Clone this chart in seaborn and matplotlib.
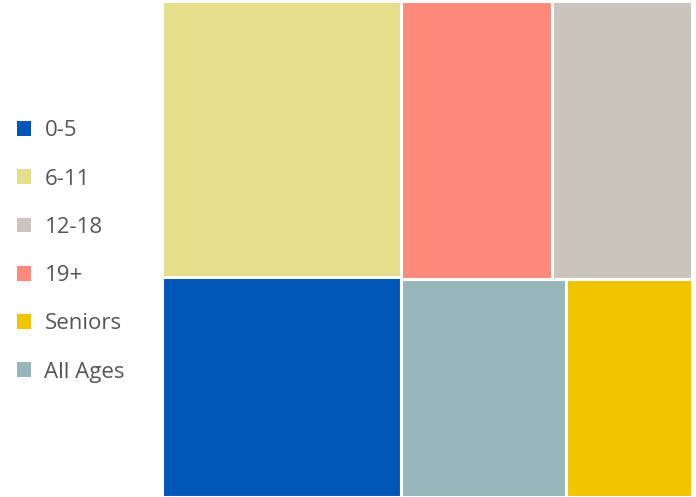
import matplotlib
matplotlib.use('Agg')
import matplotlib.pyplot as plt
from matplotlib.patches import Rectangle, Patch
import seaborn as sns

# data
groups = ['0-5', '6-11', '12-18', '19+', 'Seniors', 'All Ages']
shares = [20.0, 25.1, 14.8, 16.0, 10.4, 13.7]
colors = ['#0057b8', '#e5de8a', '#cbc4bd', '#ff8a7b', '#f0c500', '#97b6ba']


def worst(row, side):
    s = sum(row)
    return max(max(side * side * r / (s * s), s * s / (side * side * r)) for r in row)


def place_row(row, x, y, w, h):
    s = sum(row)
    out = []
    if w >= h:
        cw = s / h
        yy = y
        for r in row:
            out.append((x, yy, cw, r / cw))
            yy += r / cw
        return out, (x + cw, y, w - cw, h)
    rh = s / w
    xx = x
    for r in row:
        out.append((xx, y, r / rh, rh))
        xx += r / rh
    return out, (x, y + rh, w, h - rh)


def squarify(values, w, h):
    total = sum(values)
    areas = [v * w * h / total for v in values]
    box = (0, 0, w, h)
    rects, row = [], []
    rest = list(areas)
    while rest:
        side = min(box[2], box[3])
        a = rest[0]
        if not row or worst(row + [a], side) <= worst(row, side):
            row.append(a)
            rest.pop(0)
        else:
            out, box = place_row(row, *box)
            rects += out
            row = []
    out, box = place_row(row, *box)
    rects += out
    return rects


sns.set_theme(style='white')
plt.rcParams['font.family'] = ['Open Sans', 'DejaVu Sans']

W, H = 530, 496
order = sorted(range(len(groups)), key=lambda i: -shares[i])
rects = squarify([shares[i] for i in order], W, H)

fig = plt.figure(figsize=(6.96, 4.97), dpi=100)
ax = fig.add_axes([161.5 / 696, 0, W / 696, H / 497])
pal = sns.color_palette(colors)
for i, (x, y, w, h) in zip(order, rects):
    ax.add_patch(Rectangle((x, y), w, h, facecolor=pal[i], edgecolor='white', linewidth=2.2))
ax.set_xlim(0, W)
ax.set_ylim(H, 0)
ax.set_axis_off()

handles = [Patch(facecolor=pal[i], edgecolor='none') for i in range(len(groups))]
fig.legend(handles, groups, loc='center left', bbox_to_anchor=(17 / 696, 0.494),
           frameon=False, fontsize=16, labelcolor='#555555',
           handlelength=0.65, handleheight=0.65, handletextpad=0.585,
           labelspacing=1.225, borderaxespad=0.0, borderpad=0.0)

fig.savefig('out.png', dpi=100)
